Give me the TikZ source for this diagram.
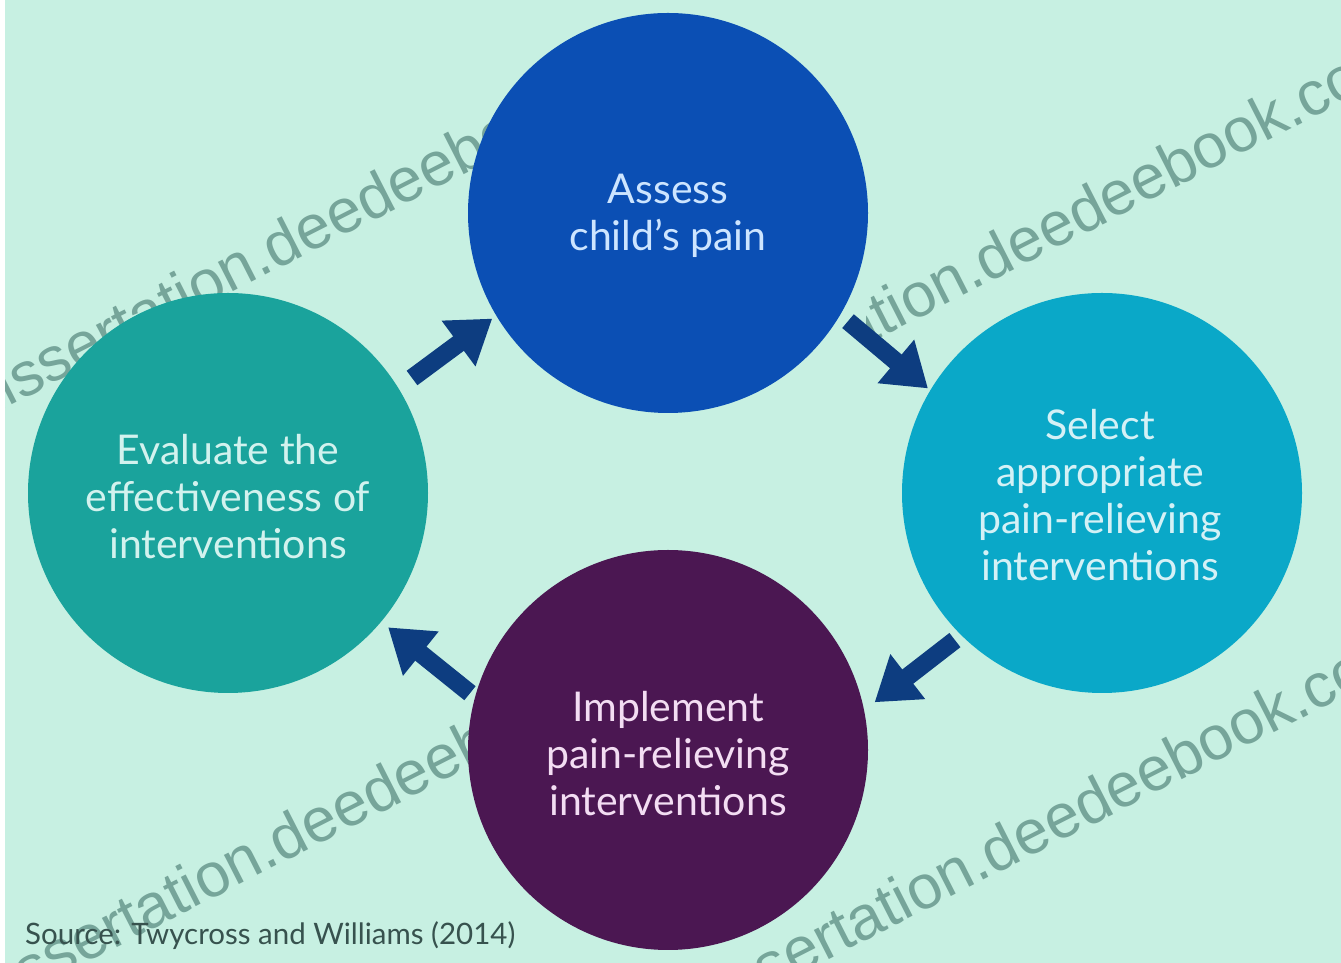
\documentclass[tikz,border=0pt]{standalone}
\usepackage{fontspec}
\setmainfont{Lato}
\newfontfamily\wmfont{Liberation Sans}
\usetikzlibrary{arrows.meta,calc}
\definecolor{bgmint}{HTML}{C7F0E2}
\definecolor{cblue}{HTML}{0B4FB4}
\definecolor{ccyan}{HTML}{0AA8C8}
\definecolor{cpurple}{HTML}{4B1752}
\definecolor{cteal}{HTML}{1AA39C}
\definecolor{arrcol}{HTML}{0D3D80}
\definecolor{wmcol}{HTML}{76A59A}
\definecolor{srccol}{HTML}{37524E}
\definecolor{tblue}{HTML}{CDE5FF}
\definecolor{tcyan}{HTML}{D4F1F6}
\definecolor{tpurple}{HTML}{F3DDF3}
\definecolor{tteal}{HTML}{D2F2EE}
\tikzset{
  stage/.style={circle, minimum size=400pt, inner sep=0pt, outer sep=0pt, draw=none},
  stagetext/.style={align=center, font=\fontsize{41}{47}\selectfont},
  arr/.style={draw=arrcol, line width=18pt, -{Triangle[length=42pt,width=54pt]}},
  wm/.style={anchor=base west, rotate=27, text=wmcol, font=\wmfont\fontsize{62}{62}\selectfont, inner sep=0pt}
}
\begin{document}
\begin{tikzpicture}[x=1pt,y=1pt]
\useasboundingbox (0,0) rectangle (1341,963);
\fill[bgmint] (0,0) rectangle (1341,963);
\fill[white] (0,0) rectangle (5,963);
% watermarks
\begin{scope}
\clip (5,0) rectangle (1341,963);
\node[wm] (wm1) at (-22,541) {dissertation.deedeebook.com};
\node[wm] (wm3) at (-16,-52) {dissertation.deedeebook.com};
\end{scope}
\begin{scope}
\clip (866,0) rectangle (1341,963);
\node[wm] (wm2) at (690,528) {dissertation.deedeebook.com};
\end{scope}
\begin{scope}
\clip (748,0) rectangle (1341,963);
\node[wm] (wm4) at (696,-64) {dissertation.deedeebook.com};
\end{scope}
% stages
\node[stage, fill=cblue] (T) at (668,750) {};
\node[stage, fill=ccyan] (R) at (1102,470) {};
\node[stage, fill=cpurple] (B) at (668,213) {};
\node[stage, fill=cteal] (L) at (228,470) {};
\node[stagetext, text=tblue] (Tt) at (668,747) {Assess\\child's pain};
\node[stagetext, text=tcyan] (Rt) at (1100,468) {Select\\appropriate\\pain-relieving\\interventions};
\node[stagetext, text=tpurple] (Bt) at (668,209) {Implement\\pain-relieving\\interventions};
\node[stagetext, text=tteal] (Lt) at (228,466) {Evaluate the\\effectiveness of\\interventions};
% arrows
\draw[arr] ($(L)+(32:217)$) -- ($(T)+(211:205)$);
\draw[arr] ($(T)+(-31:210)$) -- ($(R)+(149:203)$);
\draw[arr] ($(R)+(225:208)$) -- ($(B)+(13:212)$);
\draw[arr] ($(B)+(164:206)$) -- ($(L)+(-40:209)$);
% source
\node[anchor=base west, inner sep=0pt, text=srccol, font=\fontsize{29.5}{30}\selectfont] (src) at (25,18) {Source: Twycross and Williams (2014)};
\end{tikzpicture}
\end{document}
